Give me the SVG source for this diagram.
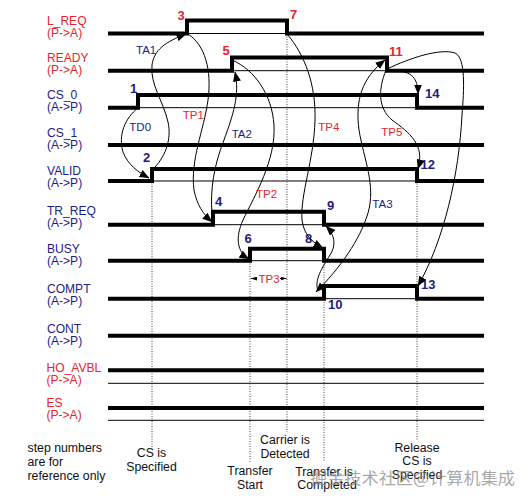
<svg xmlns="http://www.w3.org/2000/svg" width="529" height="500" viewBox="0 0 529 500">
<style>
.bg{fill:#fff}
.lbl{font-family:"Liberation Sans",Arial,sans-serif;font-size:13.4px}
.red{fill:#e3262e}
.blue{fill:#1c1c84}
.num{font-family:"Liberation Sans",Arial,sans-serif;font-size:13px;font-weight:bold}
.tl{font-family:"Liberation Sans",Arial,sans-serif;font-size:11.5px}
.note{font-family:"Liberation Sans",Arial,sans-serif;font-size:12.3px;fill:#111}
.thick{fill:none;stroke:#000;stroke-width:4;stroke-linejoin:miter}
.thin{fill:none;stroke:#000;stroke-width:1}
.dot{fill:none;stroke:#444;stroke-width:1;stroke-dasharray:1 1.5}
.cv{fill:none;stroke:#000;stroke-width:1}
.wm{font-family:"Noto Sans CJK SC",sans-serif;font-size:16px;fill:#8a8a8a;fill-opacity:0.75}
</style>
<defs>
<marker id="ah" viewBox="0 0 10 8" refX="9.5" refY="4" markerWidth="10" markerHeight="8" markerUnits="userSpaceOnUse" orient="auto-start-reverse">
<path d="M0,0 L10,4 L0,8 z" fill="#000"/>
</marker>
<marker id="sm" viewBox="0 0 6 4" refX="6" refY="2" markerWidth="6" markerHeight="4" markerUnits="userSpaceOnUse" orient="auto">
<path d="M0,0 L6,2 L0,4 z" fill="#000"/>
</marker>
</defs>
<rect class="bg" x="0" y="0" width="529" height="500"/>

<g id="guides">
<line class="dot" x1="152" y1="181" x2="152" y2="447"/>
<line class="dot" x1="250" y1="261" x2="250" y2="463"/>
<line class="dot" x1="287" y1="34" x2="287" y2="432"/>
<line class="dot" x1="324" y1="262" x2="324" y2="462"/>
<line class="dot" x1="417" y1="181" x2="417" y2="440"/>
</g>

<g id="sig-L_REQ">
<text class="lbl red" transform="translate(47 25) scale(0.9 1)">L_REQ</text>
<text class="lbl red" transform="translate(47 37) scale(0.9 1)">(P-&gt;A)</text>
<line class="thin" x1="108" y1="33.5" x2="484" y2="33.5"/>
<polyline class="thick" points="108,33.5 187,33.5 187,20.5 287,20.5 287,33.5 484,33.5"/>
</g>
<g id="sig-READY">
<text class="lbl red" transform="translate(47 61.5) scale(0.9 1)">READY</text>
<text class="lbl red" transform="translate(47 73.5) scale(0.9 1)">(P-&gt;A)</text>
<line class="thin" x1="108" y1="70.7" x2="484" y2="70.7"/>
<polyline class="thick" points="108,70.7 232,70.7 232,57.5 387,57.5 387,70.7 484,70.7"/>
</g>
<g id="sig-CS_0">
<text class="lbl blue" transform="translate(47 98.5) scale(0.9 1)">CS_0</text>
<text class="lbl blue" transform="translate(47 110.5) scale(0.9 1)">(A-&gt;P)</text>
<line class="thin" x1="108" y1="107.7" x2="484" y2="107.7"/>
<polyline class="thick" points="108,107.7 138,107.7 138,95 417,95 417,107.7 484,107.7"/>
</g>
<g id="sig-CS_1">
<text class="lbl blue" transform="translate(47 137) scale(0.9 1)">CS_1</text>
<text class="lbl blue" transform="translate(47 149) scale(0.9 1)">(A-&gt;P)</text>
<line class="thick" x1="108" y1="145" x2="484" y2="145"/>
</g>
<g id="sig-VALID">
<text class="lbl blue" transform="translate(47 175) scale(0.9 1)">VALID</text>
<text class="lbl blue" transform="translate(47 187) scale(0.9 1)">(A-&gt;P)</text>
<line class="thin" x1="108" y1="181" x2="484" y2="181"/>
<polyline class="thick" points="108,181 152,181 152,169 417,169 417,181 484,181"/>
</g>
<g id="sig-TR_REQ">
<text class="lbl blue" transform="translate(47 215) scale(0.9 1)">TR_REQ</text>
<text class="lbl blue" transform="translate(47 227) scale(0.9 1)">(A-&gt;P)</text>
<line class="thin" x1="108" y1="224.7" x2="484" y2="224.7"/>
<polyline class="thick" points="108,224.7 213,224.7 213,211.7 324,211.7 324,224.7 484,224.7"/>
</g>
<g id="sig-BUSY">
<text class="lbl blue" transform="translate(47 253) scale(0.9 1)">BUSY</text>
<text class="lbl blue" transform="translate(47 265) scale(0.9 1)">(A-&gt;P)</text>
<line class="thin" x1="108" y1="260.7" x2="484" y2="260.7"/>
<polyline class="thick" points="108,260.7 250,260.7 250,248.7 324,248.7 324,260.7 484,260.7"/>
</g>
<g id="sig-COMPT">
<text class="lbl blue" transform="translate(47 292.5) scale(0.9 1)">COMPT</text>
<text class="lbl blue" transform="translate(47 304.5) scale(0.9 1)">(A-&gt;P)</text>
<line class="thin" x1="108" y1="298.7" x2="484" y2="298.7"/>
<polyline class="thick" points="108,298.7 324,298.7 324,286 417,286 417,298.7 484,298.7"/>
</g>
<g id="sig-CONT">
<text class="lbl blue" transform="translate(47 332.5) scale(0.9 1)">CONT</text>
<text class="lbl blue" transform="translate(47 344.5) scale(0.9 1)">(A-&gt;P)</text>
<line class="thick" x1="108" y1="335.7" x2="484" y2="335.7"/>
</g>
<g id="sig-HO_AVBL">
<text class="lbl red" transform="translate(46.5 371.5) scale(0.9 1)">HO_AVBL</text>
<text class="lbl red" transform="translate(46.5 383.5) scale(0.9 1)">(P-&gt;A)</text>
<line class="thick" x1="108" y1="370.3" x2="484" y2="370.3"/>
<line class="thin" x1="108" y1="383.3" x2="484" y2="383.3"/>
</g>
<g id="sig-ES">
<text class="lbl red" transform="translate(46.5 407) scale(0.9 1)">ES</text>
<text class="lbl red" transform="translate(46.5 419) scale(0.9 1)">(P-&gt;A)</text>
<line class="thick" x1="108" y1="408" x2="484" y2="408"/>
<line class="thin" x1="108" y1="420.3" x2="484" y2="420.3"/>
</g>

<g id="steps">
<text class="num red" x="177.5" y="19.5">3</text>
<text class="num red" x="290" y="19">7</text>
<text class="num red" x="222.5" y="55">5</text>
<text class="num red" x="389" y="55.5">11</text>
<text class="num blue" x="130" y="92.5">1</text>
<text class="num blue" x="143" y="162">2</text>
<text class="num blue" x="425" y="97.5">14</text>
<text class="num blue" x="420.5" y="169">12</text>
<text class="num blue" x="215" y="205.7">4</text>
<text class="num blue" x="244.5" y="243.3">6</text>
<text class="num blue" x="327" y="210">9</text>
<text class="num blue" x="305" y="243.3">8</text>
<text class="num blue" x="421" y="289">13</text>
<text class="num blue" x="328" y="309">10</text>
</g>

<g id="connectors">
<path class="cv" d="M138,108 C125,118 118,135 123,152 C128,165 138,172 149,178" marker-end="url(#ah)"/>
<path class="cv" d="M152,170 C165,158 172,140 168,122 C163,100 150,85 152,65 C154,50 165,42 186,34" marker-end="url(#ah)"/>
<path class="cv" d="M188,34 C205,45 212,70 208,100 C204,130 190,160 194,190 C197,205 203,214 212,222" marker-end="url(#ah)"/>
<path class="cv" d="M212,213 C210,190 214,165 224,140 C233,115 240,95 235,72" marker-end="url(#ah)"/>
<path class="cv" d="M232,60 C255,70 272,95 274,125 C276,160 255,195 243,220 C235,238 237,252 249,259" marker-end="url(#ah)"/>
<path class="cv" d="M287,34 C305,55 316,85 315,120 C314,160 300,195 302,220 C304,235 312,242 323,248" marker-end="url(#ah)"/>
<path class="cv" d="M318,291 C314,280 322,268 330,255 C337,244 334,234 326,226" marker-end="url(#ah)"/>
<path class="cv" d="M316,292 C340,268 360,240 368,213 C376,185 364,160 359,130 C355,100 362,78 385,60" marker-start="url(#ah)" marker-end="url(#ah)"/>
<path class="cv" d="M387,69 C410,58 440,48 455,53 C466,58 464,90 462,115 C459,175 444,240 418,286" marker-end="url(#ah)"/>
<path class="cv" d="M387,71 C405,70 418,72 418,94" marker-end="url(#ah)"/>
<path class="cv" d="M386,70 C378,90 378,108 392,120 C410,133 425,145 418,169" marker-end="url(#ah)"/>
<line class="cv" x1="257" y1="278.5" x2="251" y2="278.5" marker-end="url(#sm)"/>
<line class="cv" x1="280" y1="278.5" x2="286.5" y2="278.5" marker-end="url(#sm)"/>
</g>

<g id="timing-labels">
<text class="tl blue" x="136" y="53.7">TA1</text>
<text class="tl blue" x="129.3" y="130.7">TD0</text>
<text class="tl red" x="182.7" y="119.3">TP1</text>
<text class="tl blue" x="231.7" y="138.3">TA2</text>
<text class="tl red" x="318.3" y="130.7">TP4</text>
<text class="tl red" x="381.3" y="136">TP5</text>
<text class="tl red" x="256" y="198.3">TP2</text>
<text class="tl red" x="258.5" y="282.7">TP3</text>
<text class="tl blue" x="372.3" y="208.3">TA3</text>
</g>

<g id="notes">
<text class="note" x="27.5" y="452">step numbers</text>
<text class="note" x="27.5" y="465.5">are for</text>
<text class="note" x="27.5" y="479.5">reference only</text>
<text class="note" x="151.5" y="457" text-anchor="middle">CS is</text>
<text class="note" x="151.5" y="471" text-anchor="middle">Specified</text>
<text class="note" x="250" y="475" text-anchor="middle">Transfer</text>
<text class="note" x="250" y="488.5" text-anchor="middle">Start</text>
<text class="note" x="285" y="444" text-anchor="middle">Carrier is</text>
<text class="note" x="285" y="457.5" text-anchor="middle">Detected</text>
<text class="note" x="324" y="476" text-anchor="middle">Transfer is</text>
<text class="note" x="327" y="488.5" text-anchor="middle">Completed</text>
<text class="note" x="417" y="451.5" text-anchor="middle">Release</text>
<text class="note" x="417" y="465.3" text-anchor="middle">CS is</text>
<text class="note" x="417" y="479" text-anchor="middle">Specified</text>
</g>

<text class="wm" x="310" y="484" textLength="205" lengthAdjust="spacingAndGlyphs">掘金技术社区@计算机集成</text>
</svg>
